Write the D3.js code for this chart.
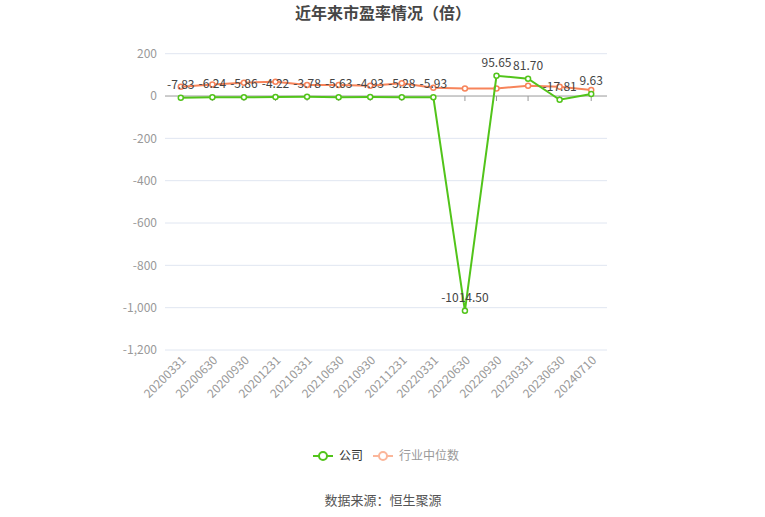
<!DOCTYPE html>
<html><head><meta charset="utf-8">
<script src="https://cdn.jsdelivr.net/npm/d3@7/dist/d3.min.js"></script>
<style>body{margin:0;background:#fff;font-family:"Noto Sans CJK SC","Noto Sans",sans-serif;}</style>
</head><body><svg id="c" width="765" height="517"></svg>
<script>
const categories = ["20200331","20200630","20200930","20201231","20210331","20210630","20210930","20211231","20220331","20220630","20220930","20230331","20230630","20240710"];
const companyValues = [-7.83,-6.24,-5.86,-4.22,-3.78,-5.63,-4.93,-5.28,-5.93,-1014.50,95.65,81.70,-17.81,9.63];
const industryValues = [44,55,63,68,52,52,49,60,39,36,36,49,44,28];
const yTicks = [200,0,-200,-400,-600,-800,-1000,-1200];
const seriesNames = ["公司","行业中位数"];

(function(){
const svg = d3.select("#c");
const pl = 165, pr = 607, pt = 53.7, pb = 350;
const x = d3.scalePoint().domain(categories).range([pl, pr]).padding(0.5);
const y = d3.scaleLinear().domain([-1200, 200]).range([pb, pt]);
const loc = d3.formatLocale({decimal:".", thousands:",", grouping:[3], currency:["",""], minus:"-"});
const fmt = loc.format(",");
const fmtLabel = loc.format(".2f");

svg.append("text").attr("x", 383).attr("y", 19).attr("text-anchor","middle")
  .attr("font-size",16).attr("font-weight","bold").attr("fill","#464646").text("近年来市盈率情况（倍）");

svg.append("g").selectAll("line").data(yTicks.filter(d=>d!==0)).join("line")
  .attr("x1",pl).attr("x2",pr).attr("y1",d=>y(d)).attr("y2",d=>y(d))
  .attr("stroke","#E0E6F1").attr("stroke-width",1);
svg.append("g").selectAll("text").data(yTicks).join("text")
  .attr("x",157).attr("y",d=>y(d)).attr("dy","0.35em").attr("text-anchor","end")
  .attr("font-size",12).attr("fill","#999").text(d=>fmt(d));
svg.append("line").attr("x1",pl).attr("x2",pr).attr("y1",y(0)).attr("y2",y(0))
  .attr("stroke","#999").attr("stroke-width",1);
svg.append("g").selectAll("line").data(categories).join("line")
  .attr("x1",d=>x(d)).attr("x2",d=>x(d)).attr("y1",y(0)).attr("y2",y(0)+5)
  .attr("stroke","#999");
svg.append("g").selectAll("text").data(categories).join("text")
  .attr("transform",d=>`translate(${x(d)+3},${pb+8}) rotate(-45)`)
  .attr("text-anchor","end").attr("dy","0.35em").attr("font-size",12).attr("fill","#999").text(d=>d);

const line = d3.line().x((d,i)=>x(categories[i])).y(d=>y(d));
const orange = "#f7845a", green = "#52c41a";
svg.append("path").datum(industryValues).attr("d",line).attr("fill","none").attr("stroke",orange).attr("stroke-width",2);
svg.append("g").selectAll("circle").data(industryValues).join("circle")
  .attr("cx",(d,i)=>x(categories[i])).attr("cy",d=>y(d)).attr("r",2.5)
  .attr("fill","#fff").attr("stroke",orange).attr("stroke-width",1.5);
svg.append("path").datum(companyValues).attr("d",line).attr("fill","none").attr("stroke",green).attr("stroke-width",2);
svg.append("g").selectAll("circle").data(companyValues).join("circle")
  .attr("cx",(d,i)=>x(categories[i])).attr("cy",d=>y(d)).attr("r",2.5)
  .attr("fill","#fff").attr("stroke",green).attr("stroke-width",1.5);
svg.append("g").selectAll("text").data(companyValues).join("text")
  .attr("x",(d,i)=>x(categories[i])).attr("y",d=>y(d)-9)
  .attr("text-anchor","middle").attr("font-size",12).attr("fill","#444")
  .text(d=>fmtLabel(d));

const lg = svg.append("g");
const items = [{n:seriesNames[0],c:green,tc:"#333",x:313},{n:seriesNames[1],c:"#fbb69a",tc:"#999",x:373}];
items.forEach(it=>{
  lg.append("line").attr("x1",it.x).attr("x2",it.x+20).attr("y1",456).attr("y2",456).attr("stroke",it.c).attr("stroke-width",2);
  lg.append("circle").attr("cx",it.x+10).attr("cy",456).attr("r",4).attr("fill","#fff").attr("stroke",it.c).attr("stroke-width",2);
  lg.append("text").attr("x",it.x+26).attr("y",456).attr("dy","0.35em").attr("font-size",12).attr("fill",it.tc).text(it.n);
});
svg.append("text").attr("x",383).attr("y",500).attr("dy","0.35em").attr("text-anchor","middle")
  .attr("font-size",13).attr("fill","#555").text("数据来源：恒生聚源");
})();
</script></body></html>
